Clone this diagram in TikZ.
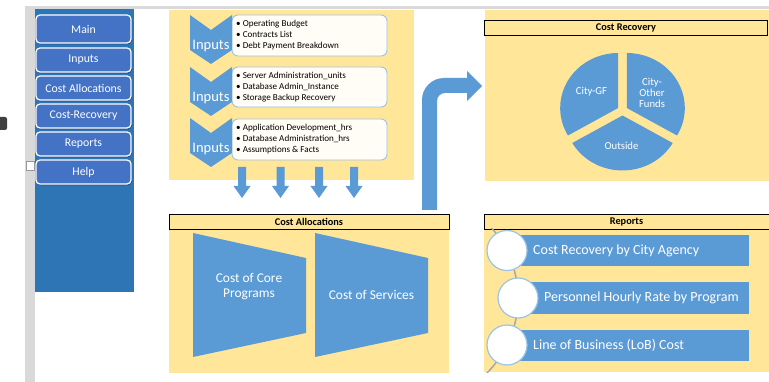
\documentclass[tikz,border=0pt]{standalone}
\usepackage{fontspec}
\setmainfont{Carlito}
\usetikzlibrary{calc}
\definecolor{sideblue}{HTML}{2E75B6}
\definecolor{btnblue}{HTML}{4472C4}
\definecolor{btnshadow}{HTML}{2F4F8F}
\definecolor{shapeblue}{HTML}{5B9BD5}
\definecolor{panelyellow}{HTML}{FFE699}
\definecolor{lightgray}{HTML}{D9D9D9}
\definecolor{boxborder}{HTML}{9DC3E6}
\definecolor{boxfill}{HTML}{FFFDF5}
\definecolor{arcgray}{HTML}{A3AAA3}
\definecolor{darkgray}{HTML}{404040}
\tikzset{
  px/.style={x=1pt,y=1pt},
  btn/.style={draw=white, line width=1.2pt, fill=btnblue, rounded corners=4pt, text=white,
    minimum width=95pt, inner sep=0pt, font=\fontsize{11.8}{13}\selectfont},
  btnshade/.style={fill=btnshadow, rounded corners=4pt},
  panel/.style={fill=panelyellow},
  header/.style={draw=black, line width=0.9pt, fill=panelyellow, inner sep=0pt,
    font=\bfseries\fontsize{10.3}{11}\selectfont},
  inbox/.style={draw=boxborder, line width=0.9pt, fill=boxfill, rounded corners=6pt,
    minimum width=155pt, inner sep=0pt},
  bullets/.style={align=left, anchor=west, inner sep=0pt, font=\fontsize{9.1}{11}\selectfont},
  chev/.style={fill=shapeblue},
  chevtext/.style={text=white, inner sep=0pt, font=\fontsize{14.5}{16}\selectfont},
  bluefill/.style={fill=shapeblue},
  whitetext/.style={text=white, inner sep=0pt},
  bar/.style={fill=shapeblue, minimum width=242pt, inner sep=0pt},
  circ/.style={circle, draw=boxborder, line width=1.2pt, fill=white, minimum size=40pt, inner sep=0pt},
}
\begin{document}
\begin{tikzpicture}[px]
\useasboundingbox (0,0) rectangle (769,-382);
\fill[white] (0,0) rectangle (769,-382);
% frame strips
\fill[lightgray] (25,-6) rectangle (769,-9);
\fill[lightgray] (25,-6) rectangle (35,-382);
\fill[white, draw=lightgray!70!black, line width=0.4pt] (26,-161) rectangle (34,-170);
\fill[darkgray, rounded corners=2pt] (-3,-117) rectangle (7,-130);
% sidebar
\fill[sideblue] (35,-9) rectangle (134,-292);
\foreach \nm/\txt/\cy/\h in {bmain/Main/29/28, binputs/Inputs/60/24, balloc/Cost Allocations/88/24,
   brec/Cost-Recovery/116/24, breports/Reports/144/24, bhelp/Help/172/24}{
  \fill[btnshade] (37,-\cy+\h/2-1.5) rectangle (132,-\cy-\h/2-1.5);
  \node[btn, minimum height=\h pt] (\nm) at (83.5,-\cy) {\txt};
}
% inputs panel
\fill[panel] (169,-10) rectangle (414,-180);
\node[inbox, minimum height=41pt] (box1) at (309.5,-35.5) {};
\node[inbox, minimum height=40pt] (box2) at (309.5,-87) {};
\node[inbox, minimum height=41pt] (box3) at (309.5,-139.5) {};
\node[bullets] (t1) at (236,-35.5) {• Operating Budget\\• Contracts List\\• Debt Payment Breakdown};
\node[bullets] (t2) at (236,-87) {• Server Administration\_units\\• Database Admin\_Instance\\• Storage Backup Recovery};
\node[bullets] (t3) at (236,-139.5) {• Application Development\_hrs\\• Database Administration\_hrs\\• Assumptions \& Facts};
\foreach \t/\nm in {15/c1, 67/c2, 118/c3}{
  \fill[chev] (190,-\t) -- (211,-\t-15) -- (232,-\t) -- (232,-\t-35) -- (211,-\t-49) -- (190,-\t-35) -- cycle;
  \node[chevtext] (\nm) at (211,-\t-31) {Inputs};
}
% down arrows
\foreach \c in {242,280.5,319,354}{
  \fill[bluefill] (\c-4,-167) -- (\c+4,-167) -- (\c+4,-186) -- (\c+8.5,-186) -- (\c,-198)
     -- (\c-8.5,-186) -- (\c-4,-186) -- cycle;
}
% bent arrow
\fill[bluefill] (422,-210) -- (422,-100) arc[start angle=180, end angle=90, radius=22]
  -- (467,-78) -- (467,-71) -- (482,-86) -- (467,-101) -- (467,-93) -- (445,-93)
  arc[start angle=90, end angle=180, radius=8] -- (437,-210) -- cycle;
% cost recovery panel
\fill[panel] (485,-10) rectangle (769,-181);
\node[header, minimum width=283pt, minimum height=15pt] (hrec) at (626,-27.5) {Cost Recovery};
\coordinate (pc) at (622.5,-110.5);
\fill[bluefill] ($(pc)+(150:5)$) -- ++(90:58 and 55) arc[start angle=90, end angle=210, x radius=58, y radius=55] -- cycle;
\fill[bluefill] ($(pc)+(30:5)$) -- ++(90:58 and 55) arc[start angle=90, end angle=-30, x radius=58, y radius=55] -- cycle;
\fill[bluefill] ($(pc)+(270:5)$) -- ++(210:58 and 55) arc[start angle=210, end angle=330, x radius=58, y radius=55] -- cycle;
\node[whitetext, font=\fontsize{10.7}{12}\selectfont] (pgf) at (591.5,-92) {City-GF};
\node[whitetext, align=center, font=\fontsize{10.7}{11}\selectfont] (pof) at (652,-92.5) {City-\\Other\\Funds};
\node[whitetext, font=\fontsize{10.7}{12}\selectfont] (pout) at (621.5,-146) {Outside};
% cost allocations panel
\fill[panel] (169,-214) rectangle (449,-373);
\node[header, minimum width=280pt, minimum height=15pt] (halloc) at (309,-221.5) {Cost Allocations};
\fill[bluefill] (193,-233) -- (306,-258) -- (306,-333) -- (193,-357) -- cycle;
\fill[bluefill] (315,-233) -- (428,-258) -- (428,-333) -- (315,-357) -- cycle;
\node[whitetext, align=center, font=\fontsize{13.4}{15}\selectfont] (core) at (249,-287) {Cost of Core\\Programs};
\node[whitetext, font=\fontsize{13.4}{15}\selectfont] (serv) at (371.5,-295) {Cost of Services};
% reports panel
\fill[panel] (484,-214) rectangle (769,-372);
\node[header, minimum width=285pt, minimum height=15pt] (hrep) at (626.5,-221.5) {Reports};
\begin{scope}
  \clip (484,-229) rectangle (769,-372);
  \draw[arcgray, line width=1.5pt] (412,-298) ++(46:106) arc[start angle=46, end angle=-46, radius=106];
\end{scope}
\node[bar, minimum height=31pt, anchor=west] (r1) at (507,-250.5) {};
\node[bar, minimum height=32pt, anchor=west] (r2) at (507,-298) {};
\node[bar, minimum height=31pt, anchor=west] (r3) at (507,-345.5) {};
\node[circ] (k1) at (507,-250.5) {};
\node[circ] (k2) at (518,-298) {};
\node[circ] (k3) at (507,-345) {};
\node[whitetext, anchor=west, font=\fontsize{14}{15}\selectfont] (l1) at (533,-250.5) {Cost Recovery by City Agency};
\node[whitetext, anchor=west, font=\fontsize{14}{15}\selectfont] (l2) at (544,-298) {Personnel Hourly Rate by Program};
\node[whitetext, anchor=west, font=\fontsize{14}{15}\selectfont] (l3) at (533,-345.5) {Line of Business (LoB) Cost};
\end{tikzpicture}
\end{document}
